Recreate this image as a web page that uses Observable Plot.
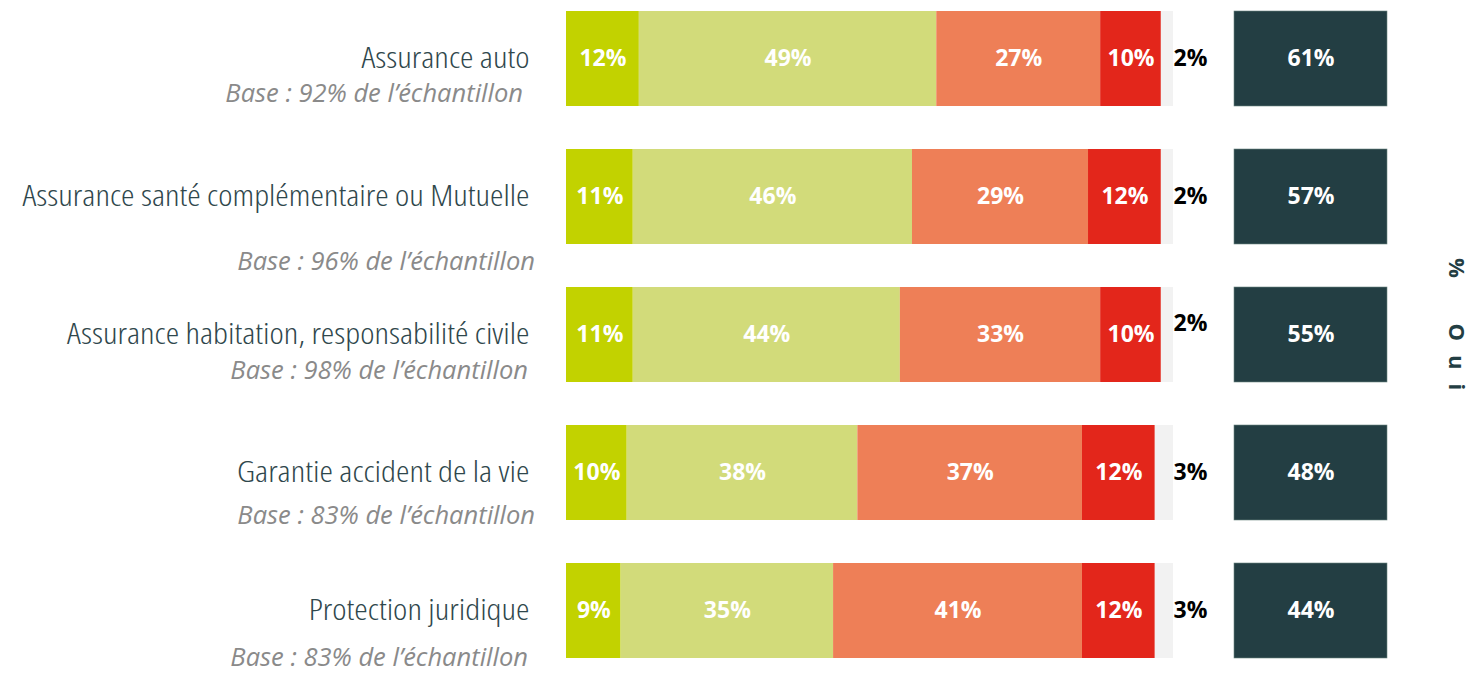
<!DOCTYPE html>
<html>
<head>
<meta charset="utf-8">
<script src="https://cdn.jsdelivr.net/npm/d3@7"></script>
<script src="https://cdn.jsdelivr.net/npm/@observablehq/plot@0.6"></script>
<style>
  html, body { margin: 0; padding: 0; background: #fff; }
  #wrap { position: relative; width: 1474px; height: 674px; overflow: hidden; }
  #wrap > svg { position: absolute; top: 0; }
</style>
</head>
<body>
<div id="wrap"></div>
<script>
// ---- data ----
const categories = [
  "Assurance auto",
  "Assurance santé complémentaire ou Mutuelle",
  "Assurance habitation, responsabilité civile",
  "Garantie accident de la vie",
  "Protection juridique"
];
const bases = [
  "Base : 92% de l’échantillon",
  "Base : 96% de l’échantillon",
  "Base : 98% de l’échantillon",
  "Base : 83% de l’échantillon",
  "Base : 83% de l’échantillon"
];
const seriesNames = ["Très satisfait", "Plutôt satisfait", "Plutôt pas satisfait", "Pas du tout satisfait", "Ne sait pas"];
const tresSatisfait   = [12, 11, 11, 10, 9];
const plutotSatisfait = [49, 46, 44, 38, 35];
const plutotPas       = [27, 29, 33, 37, 41];
const pasDuTout       = [10, 12, 10, 12, 12];
const nsp             = [2, 2, 2, 3, 3];
const oui             = [61, 57, 55, 48, 44];
const ouiLabel = "% Oui";

// ---- layout (not data) ----
const colors = ["#c2d200", "#d2db7a", "#ee7f57", "#e3261b", "#f2f2f2"];
const baseDy = [35, 65, 36, 43, 47];
const baseRight = [523, 535, 528, 535, 528];
const nspDy = [0, 0, -11, 0, 0];
const labelScaleX = 1.176;
const W = 1474, H = 674;
const x0 = 566, x100 = 1173, ouiLeft = 1234, ouiRight = 1387;
const yOpts = {domain: categories, axis: null, paddingInner: 0.314, paddingOuter: 0, range: [10, 659]};

const seriesValues = [tresSatisfait, plutotSatisfait, plutotPas, pasDuTout, nsp];
const rows = [];
categories.forEach((cat, i) => {
  let acc = 0;
  seriesNames.forEach((s, j) => {
    const v = seriesValues[j][i];
    rows.push({cat, series: s, value: v, x1: acc, x2: acc + v, mid: acc + v / 2, idx: i});
    acc += v;
  });
});
const catRows = categories.map((cat, i) => ({cat, base: bases[i], oui: oui[i], idx: i}));

const mainW = ouiLeft;
const main = Plot.plot({
  width: mainW,
  height: H,
  marginLeft: x0,
  marginRight: mainW - x100,
  marginTop: 10,
  marginBottom: 15,
  x: {domain: [0, 100], axis: null},
  y: yOpts,
  color: {domain: seriesNames, range: colors},
  style: {background: "transparent"},
  marks: [
    Plot.barX(rows, {x1: "x1", x2: "x2", y: "cat", fill: "series"}),
    Plot.text(rows.filter(d => d.series !== "Ne sait pas"), {
      x: "mid", y: "cat", text: d => d.value + "%", fill: "white",
      fontSize: 23, fontWeight: "bold", fontFamily: "Open Sans"
    }),
    Plot.text(rows.filter(d => d.series === "Ne sait pas"), {
      x: "x2", y: d => d.cat, text: d => d.value + "%", fill: "black",
      fontSize: 23, fontWeight: "bold", fontFamily: "Open Sans", textAnchor: "middle", dx: 17
    }),
    Plot.text(catRows, {
      frameAnchor: "left", y: "cat", text: "cat", dx: -37, textAnchor: "end",
      fill: "#2f474c", fontSize: 29, fontFamily: "Open Sans", fontWeight: 300
    })
  ]
});
main.style.left = "0px";
document.getElementById("wrap").appendChild(main);

const svg = d3.select(main);
const textGroups = svg.selectAll("g[aria-label='text']");
// condensed category labels, slightly widened
const catGroup = textGroups.filter((_, k) => k === 2).style("font-stretch", "75%");
catGroup.selectAll("text").attr("transform", function() {
  const t = d3.select(this).attr("transform") || "";
  return t + ` scale(${labelScaleX},1)`;
});
// nudge NSP labels
textGroups.filter((_, k) => k === 1).selectAll("text")
  .attr("transform", function(_, k) {
    const t = d3.select(this).attr("transform") || "";
    return t + ` translate(0,${nspDy[k]})`;
  });

// base lines positioned via the y scale
const yScale = main.scale("y");
const band = yScale.bandwidth;
const g = svg.append("g").attr("font-family", "Open Sans").attr("font-style", "italic")
  .attr("font-weight", 400)
  .attr("font-size", 25.5).attr("fill", "#8a8a8a").attr("text-anchor", "end");
catRows.forEach((d, i) => {
  g.append("text")
    .attr("x", baseRight[i])
    .attr("y", yScale.apply(d.cat) + band / 2 + baseDy[i])
    .attr("dy", "0.35em")
    .text(d.base);
});

const ouiPlot = Plot.plot({
  width: W - ouiLeft,
  height: H,
  marginLeft: 0,
  marginRight: (W - ouiLeft) - (ouiRight - ouiLeft),
  marginTop: 10,
  marginBottom: 15,
  x: {domain: ["Oui"], axis: null, padding: 0},
  y: yOpts,
  style: {background: "transparent", overflow: "visible"},
  marks: [
    Plot.cell(catRows, {x: () => "Oui", y: "cat", fill: "#233e43", stroke: "#6b8580", strokeWidth: 0.6}),
    Plot.text(catRows, {x: () => "Oui", y: "cat", text: d => d.oui + "%", fill: "white",
      fontSize: 23, fontWeight: "bold", fontFamily: "Open Sans"})
  ]
});
ouiPlot.style.left = ouiLeft + "px";
document.getElementById("wrap").appendChild(ouiPlot);
d3.select(ouiPlot).append("text")
  .attr("transform", `translate(${1458 - ouiLeft},258) rotate(90)`)
  .attr("font-family", "Open Sans").attr("font-weight", "bold").attr("font-size", 22)
  .attr("fill", "#233e43").attr("text-anchor", "start").attr("dominant-baseline", "central")
  .style("letter-spacing", "14px").style("word-spacing", "12px")
  .text(ouiLabel);
</script>
</body>
</html>
